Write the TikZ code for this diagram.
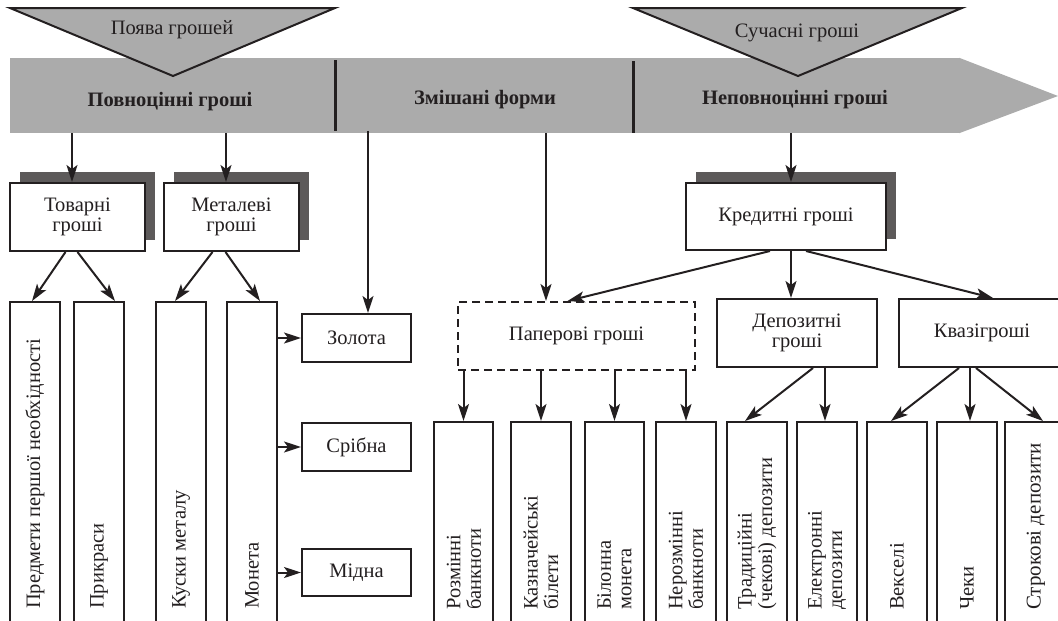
\documentclass[tikz,border=0pt]{standalone}
\usepackage{fontspec}
\setmainfont{Liberation Serif}
\usepackage{tikz}
\usetikzlibrary{positioning,arrows.meta,shadows}
\definecolor{ink}{HTML}{231F20}
\definecolor{bandgray}{HTML}{ABABAB}
\definecolor{shadegray}{HTML}{5D5A5A}
\tikzset{box/.style={draw=ink,line width=2pt,fill=white,inner sep=2pt,align=center,
		text=ink,font=\fontsize{20.5}{20.5}\selectfont},
	 shbox/.style={box,drop shadow={shadow xshift=10pt,shadow yshift=11pt,fill=shadegray,opacity=1}},
	 tallbox/.style={draw=ink,line width=2pt,inner sep=0pt,minimum width=#1},
	 vtext/.style={rotate=90,anchor=west,align=left,inner sep=0pt,text=ink,
		font=\fontsize{20.5}{20.5}\selectfont},
	 bandtext/.style={text=ink,font=\fontsize{20.5}{21}\selectfont\bfseries},
	 arr/.style={draw=ink,line width=2pt,-{Stealth[length=17pt,width=11pt,inset=4pt]}},
	 divider/.style={draw=ink,line width=3pt}
	 }

\begin{document}
\begin{tikzpicture}[x=1pt,y=-1pt]
	\useasboundingbox (0,0) rectangle (1058,621);
	% time band
	\node[fill=bandgray,inner sep=0pt,minimum width=950pt,minimum height=75pt] (band) at (485,95.5) {};
	\coordinate (tip) at (1058,96);
	\fill[bandgray] ([xshift=-1pt]band.north east) -- (tip) -- ([xshift=-1pt]band.south east) -- cycle;
	\draw[divider] (335,60) -- (335,131);
	\draw[divider] (633,61) -- (633,133);
	\draw[fill=bandgray,draw=ink,line width=2pt] (10,8) -- (335,8) -- (173,76) -- cycle;
	\draw[fill=bandgray,draw=ink,line width=2pt] (633,8) -- (962,8) -- (798,76) -- cycle;
	\node[text=ink,font=\fontsize{20.5}{21}\selectfont] (start) at (172,30) {Поява грошей};
	\node[text=ink,font=\fontsize{20.5}{21}\selectfont] (modern) at (797,33) {Сучасні гроші};
	\node[bandtext] (full) at (170,102) {Повноцінні гроші};
	\node[bandtext] (mixed) at (485,100) {Змішані форми};
	\node[bandtext] (token) at (795,100) {Неповноцінні гроші};
	\coordinate (b1) at (72,133);
	\coordinate (b2) at (226,133);
	\coordinate (b3) at (368,131);
	\coordinate (b4) at (546,133);
	\coordinate (b5) at (791,133);

	% second level
	\node[shbox,minimum width=135pt,minimum height=68pt] (tovar) at (77.5,217) {Товарні\\гроші};
	\node[shbox,minimum width=135pt,minimum height=68pt] (metal) at (231.5,217) {Металеві\\гроші};
	\node[shbox,minimum width=200pt,minimum height=67pt] (credit) at (786,216.5) {Кредитні гроші};
	\node[box,minimum width=109pt,minimum height=48pt] (zoloto) at (356.5,338) {Золота};
	\node[box,minimum width=109pt,minimum height=48pt] (sribna) at (356.5,447) {Срібна};
	\node[box,minimum width=109pt,minimum height=47pt] (midna) at (356.5,572.5) {Мідна};
	\node[box,dash pattern=on 8pt off 5pt,minimum width=237pt,minimum height=68pt] (paper) at (576.5,336) {Паперові гроші};
	\node[box,minimum width=160pt,minimum height=68pt] (depo) at (797,333) {Депозитні\\гроші};
	\node[box,minimum width=166pt,minimum height=68pt] (kvazi) at (982,333) {Квазігроші};

	% tall boxes
	\node[tallbox=50pt,minimum height=330pt] (p1) at (35,467) {};
	\node[tallbox=50pt,minimum height=330pt] (p2) at (99,467) {};
	\node[tallbox=50pt,minimum height=330pt] (p3) at (181,467) {};
	\node[tallbox=50pt,minimum height=330pt] (p4) at (252,467) {};
	\node[tallbox=59pt,minimum height=210pt] (r1) at (463.5,527) {};
	\node[tallbox=60pt,minimum height=210pt] (r2) at (541,527) {};
	\node[tallbox=59pt,minimum height=210pt] (r3) at (614.5,527) {};
	\node[tallbox=60pt,minimum height=210pt] (r4) at (686,527) {};
	\node[tallbox=60pt,minimum height=210pt] (t1) at (757,527) {};
	\node[tallbox=60pt,minimum height=210pt] (t2) at (827,527) {};
	\node[tallbox=60pt,minimum height=210pt] (v1) at (897,527) {};
	\node[tallbox=60pt,minimum height=210pt] (v2) at (967,527) {};
	\node[tallbox=60pt,minimum height=210pt] (v3) at (1035,527) {};
	\node[vtext] (p1t) at (35,609) {Предмети першої необхідності};
	\node[vtext] (p2t) at (99,609) {Прикраси};
	\node[vtext] (p3t) at (181,609) {Куски металу};
	\node[vtext] (p4t) at (252,609) {Монета};
	\node[vtext] (r1t) at (464,610) {Розмінні\\банкноти};
	\node[vtext] (r2t) at (541,610) {Казначейські\\білети};
	\node[vtext] (r3t) at (614.5,610) {Білонна\\монета};
	\node[vtext] (r4t) at (686,610) {Нерозмінні\\банкноти};
	\node[vtext] (t1t) at (757,610) {Традиційні\\(чекові) депозити};
	\node[vtext] (t2t) at (827,610) {Електронні\\депозити};
	\node[vtext] (v1t) at (897,610) {Векселі};
	\node[vtext] (v2t) at (967,610) {Чеки};
	\node[vtext,font=\fontsize{21}{22}\selectfont] (v3t) at (1036,610) {Строкові депозити};

	% connectors
	\draw[arr] (b1) -- (b1 |- tovar.north);
	\draw[arr] (b2) -- (b2 |- metal.north);
	\draw[arr] (b3) -- (b3 |- zoloto.north);
	\draw[arr] (b4) -- (b4 |- paper.north);
	\draw[arr] (b5) -- (b5 |- credit.north);
	\draw[arr] ([xshift=-12pt]tovar.south) -- ([xshift=-3pt]p1.north);
	\draw[arr] (tovar.south) -- ([xshift=16pt]p2.north);
	\draw[arr] ([xshift=-19pt]metal.south) -- ([xshift=-6pt]p3.north);
	\draw[arr] ([xshift=-6pt]metal.south) -- ([xshift=8pt]p4.north);
	\draw[arr] (p4.east |- zoloto) -- (zoloto);
	\draw[arr] (p4.east |- sribna) -- (sribna);
	\draw[arr] (p4.east |- midna) -- (midna);
	\draw[arr] ([xshift=-16pt]credit.south) -- ([xshift=-9pt]paper.north);
	\draw[arr] ([xshift=5pt]credit.south) -- ([xshift=-6pt]depo.north);
	\draw[arr] ([xshift=20pt]credit.south) -- ([xshift=11pt]kvazi.north);
	\draw[arr] (r1.north |- paper.south) -- (r1.north);
	\draw[arr] (r2.north |- paper.south) -- (r2.north);
	\draw[arr] (r3.north |- paper.south) -- (r3.north);
	\draw[arr] (r4.north |- paper.south) -- (r4.north);
	\draw[arr] ([xshift=16pt]depo.south) -- ([xshift=-12pt]t1.north);
	\draw[arr] ([xshift=28pt]depo.south) -- ([xshift=-2pt]t2.north);
	\draw[arr] ([xshift=-23pt]kvazi.south) -- ([xshift=-6pt]v1.north);
	\draw[arr] ([xshift=-12pt]kvazi.south) -- ([xshift=3pt]v2.north);
	\draw[arr] ([xshift=-6pt]kvazi.south) -- ([xshift=8pt]v3.north);
\end{tikzpicture}
\end{document}
